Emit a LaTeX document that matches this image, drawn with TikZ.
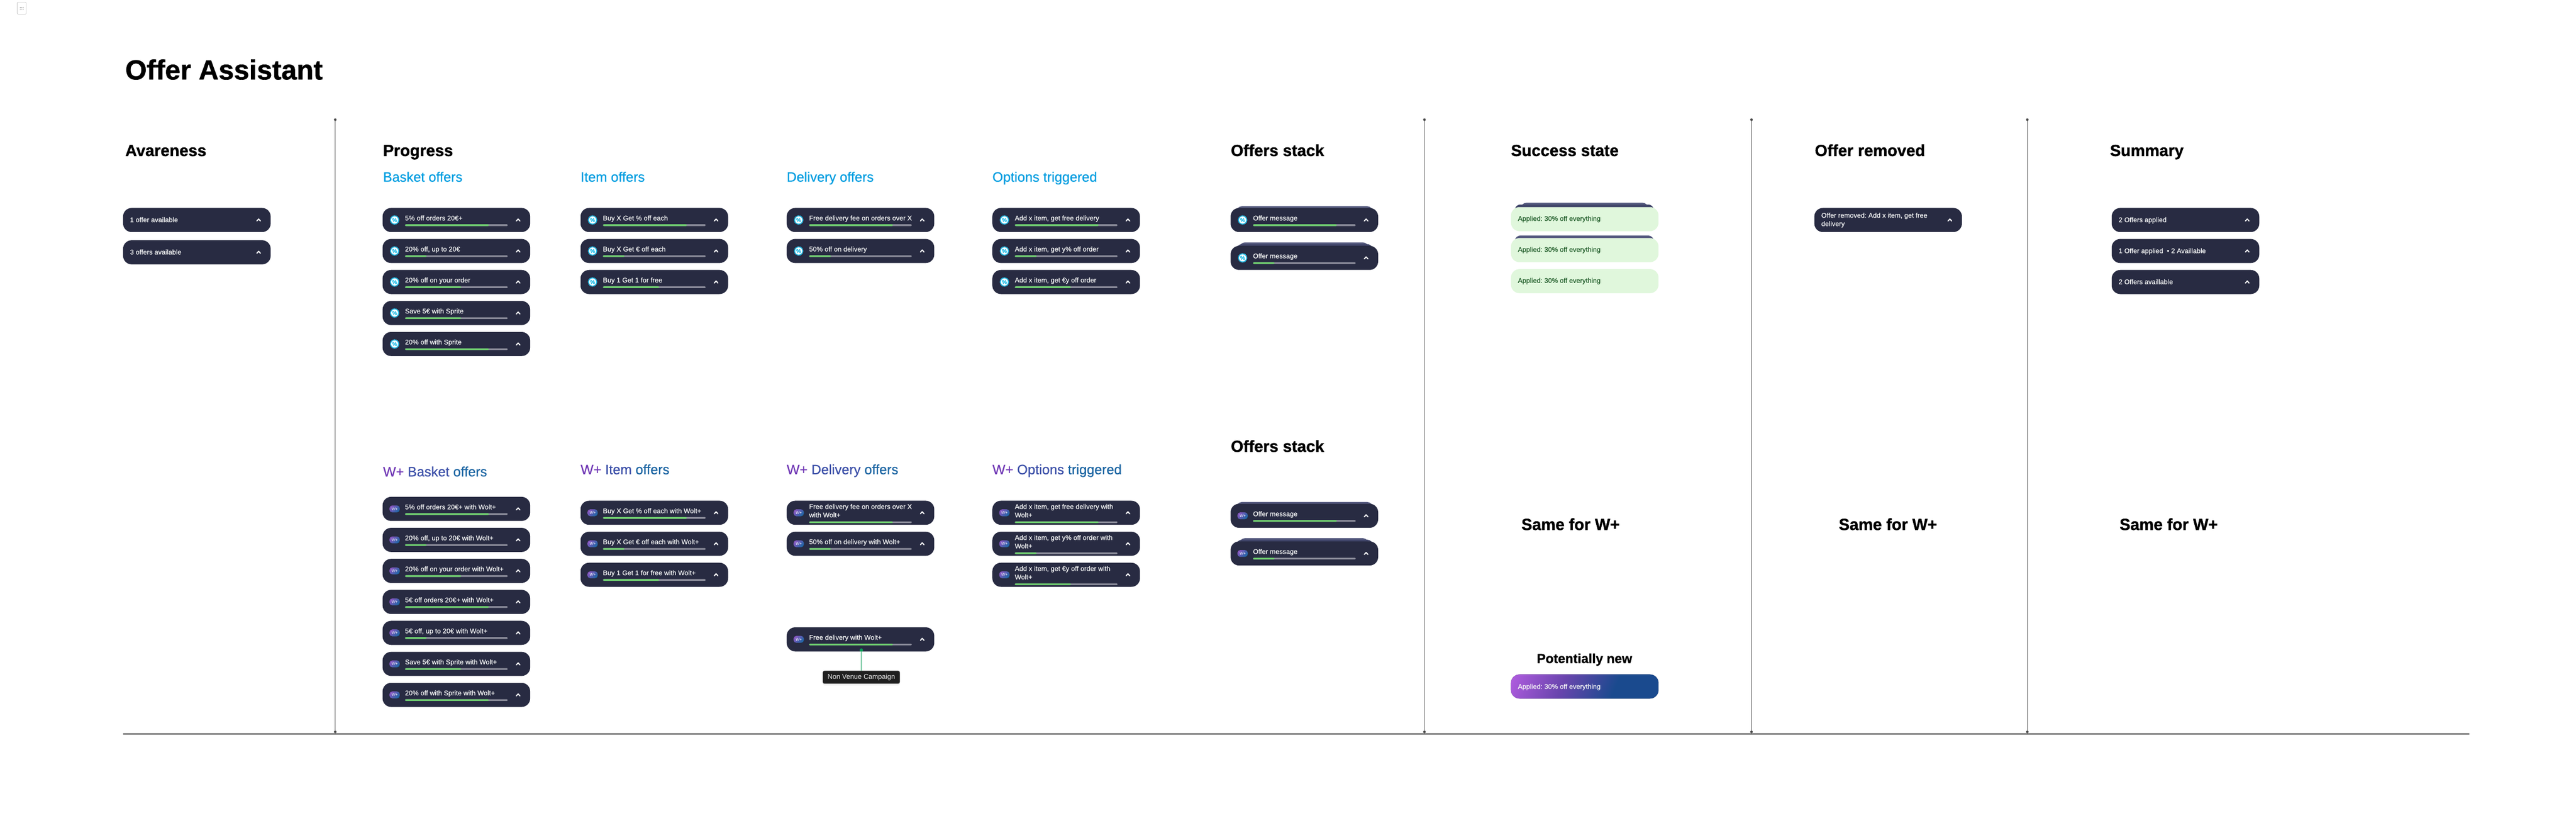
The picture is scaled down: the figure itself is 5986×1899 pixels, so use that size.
\documentclass[tikz,border=0pt]{standalone}
\usepackage{fontspec}
\setmainfont{Liberation Sans}[BoldFeatures={FakeBold=1.2}]
\newfontfamily\mediumfont{Liberation Sans}[FakeBold=.5]
\frenchspacing
\usetikzlibrary{calc,arrows.meta,shapes.geometric,shadows}
\definecolor{pillnavy}{HTML}{282B42}
\definecolor{bargrey}{HTML}{8C8D9B}
\definecolor{bargreen}{HTML}{6FCF6F}
\definecolor{woltblue}{HTML}{009DE0}
\definecolor{iconblue}{HTML}{22BDE8}
\definecolor{appliedfill}{HTML}{E0F7DC}
\definecolor{appliedtext}{HTML}{1F5C28}
\definecolor{layerlight}{HTML}{565B80}
\definecolor{layerdark}{HTML}{41466A}
\definecolor{wgradA}{HTML}{7038B5}
\definecolor{wgradB}{HTML}{3B4FA8}
\definecolor{wgradC}{HTML}{1D66A3}
\definecolor{fadepurple}{HTML}{B05CDF}
\definecolor{fademid}{HTML}{6A45AE}
\definecolor{fadenavy}{HTML}{1A4A8E}
\definecolor{campaigngreen}{HTML}{0A9C55}
\pgfdeclareverticalshading{wplusfade}{100bp}{color(0bp)=(fadenavy); color(37bp)=(fadenavy); color(60bp)=(fademid); color(83bp)=(fadepurple); color(100bp)=(fadepurple)}
\tikzset{
    pill/.style={fill=pillnavy, rounded corners=20pt, minimum width=343pt, minimum height=56pt, inner sep=0pt, outer sep=0pt, anchor=north west},
    pilltext/.style={anchor=base west, inner sep=0pt, text=white!96!pillnavy, font=\mediumfont\fontsize{15.8}{19.5}\selectfont},
    twolines/.style={pilltext, anchor=north west, align=left},
    chevron/.style={white, line width=2.5pt, line cap=round, line join=round},
    bigtitle/.style={anchor=base west, inner sep=0pt, font=\fontsize{64}{70}\selectfont\bfseries},
    blackhead/.style={anchor=base west, inner sep=0pt, font=\fontsize{37.5}{42}\selectfont\bfseries},
    bluehead/.style={anchor=base west, inner sep=0pt, text=woltblue, font=\mediumfont\fontsize{31.7}{36}\selectfont},
    wplushead/.style={anchor=base west, inner sep=0pt, font=\mediumfont\fontsize{31.7}{36}\selectfont},
    divider/.style={{Circle[length=6pt]}-{Circle[length=6pt]}, line width=1.2pt, black!70},
    gearicon/.style={star, star points=18, star point ratio=1.14, minimum size=22.5pt, inner sep=0pt, fill=iconblue},
    geardisc/.style={circle, minimum size=16.5pt, inner sep=0pt, fill=white, text=iconblue, font=\fontsize{13}{13}\selectfont\bfseries},
    wplusicon/.style={rounded corners=6.5pt, minimum width=24pt, minimum height=16pt, inner sep=0pt, left color=wgradA!85!white, right color=wgradC, shading angle=50, text=white, font=\fontsize{9.5}{10}\selectfont\itshape},
    tooltip/.style={fill=black!88, rounded corners=4pt, minimum width=179pt, minimum height=30pt, inner sep=0pt, text=white!92!black, font=\fontsize{16}{18}\selectfont, drop shadow={opacity=.12, shadow xshift=0pt, shadow yshift=-4pt}},
}
\newcommand{\percentbadge}[1]{
    \node[gearicon] (#1-gear) at ($(#1.north west)+(28,28)$) {};
    \node[geardisc] (#1-icon) at (#1-gear) {\%};
}
\newcommand{\wplusbadge}[1]{
    \node[wplusicon] (#1-icon) at ($(#1.north west)+(28,28)$) {W+};
}
\newcommand{\offerbar}[3]{ % pill, y of bar, filled part
    \fill[bargrey, rounded corners=2pt] ($(#1.north west)+(52,#2)$) rectangle ++(239,4);
    \fill[bargreen, rounded corners=2pt] ($(#1.north west)+(52,#2)$) rectangle ++({239*#3},4);
}
\newcommand{\upchevron}[1]{
    \coordinate (#1-up) at ($(#1.north west)+(315,28)$);
    \draw[chevron] ($(#1-up)+(-4.2,2.3)$) -- ($(#1-up)+(0,-2.3)$) -- ($(#1-up)+(4.2,2.3)$);
}
\NewDocumentCommand{\offerpill}{m m m m m m}{ % name, x, y, badge, text, filled part
    \node[pill] (#1) at (#2,#3) {};
    #4{#1}
    \node[pilltext] (#1-label) at ($(#1.north west)+(52,29)$) {#5};
    \offerbar{#1}{38}{#6}
    \upchevron{#1}
}
\NewDocumentCommand{\offerpilltwo}{m m m m m m}{ % same, text on two lines
    \node[pill] (#1) at (#2,#3) {};
    #4{#1}
    \node[twolines] (#1-label) at ($(#1.north west)+(52,7.5)$) {#5};
    \offerbar{#1}{48}{#6}
    \upchevron{#1}
}
\NewDocumentCommand{\plainpill}{m m m m}{ % name, x, y, text
    \node[pill] (#1) at (#2,#3) {};
    \node[pilltext] (#1-label) at ($(#1.north west)+(16,33)$) {#4};
    \upchevron{#1}
}
\newcommand{\backlayer}[4]{ % x left, x right, top, colour
    \fill[#4, rounded corners=13pt] (#1,#3) rectangle (#2,#3+34);
}
\begin{document}
\begin{tikzpicture}[x=1pt,y=-1pt]
    \useasboundingbox (0,0) rectangle (5986,1899);

    % grip at the top left
    \draw[black!22, line width=1pt, rounded corners=2pt] (40,5) rectangle (61,33);
    \foreach \gx in {47,50.5,54}
        \foreach \gy in {17,21}
            \fill[black!80] (\gx,\gy) circle (.8);

    \node[bigtitle] (title) at (291,184.5) {Offer Assistant};

    % frame
    \foreach \x/\n in {779/a,3310/b,4070/c,4711/d} {
        \coordinate (\n top) at (\x,275);
        \coordinate (\n bot) at (\x,1703);
        \draw[divider] (\n top) -- (\n bot);
    }
    \coordinate (floorL) at (286,1705);
    \coordinate (floorR) at (5738,1705);
    \draw[line width=2.5pt] (floorL) -- (floorR);

    % awareness
    \node[blackhead] (avareness) at (291,362.5) {Avareness};
    \plainpill{aw1}{286}{483}{1 offer available}
    \plainpill{aw2}{286}{558}{3 offers available}

    % progress
    \node[blackhead] (progress) at (890,362.5) {Progress};
    \node[bluehead] (basket) at (890,422) {Basket offers};
    \node[bluehead] (item) at (1349,422) {Item offers};
    \node[bluehead] (delivery) at (1828,422) {Delivery offers};
    \node[bluehead] (options) at (2306,422) {Options triggered};

    \foreach \lbl/\amt [count=\i] in {5\% off orders 20€+/.816, {20\% off, up to 20€}/.21, 20\% off on your order/.547, Save 5€ with Sprite/.547, 20\% off with Sprite/.816} {
        \offerpill{bk\i}{889}{411+72*\i}{\percentbadge}{\lbl}{\amt}
    }
    \foreach \lbl/\amt [count=\i] in {Buy X Get \% off each/.816, Buy X Get € off each/.21, Buy 1 Get 1 for free/.547} {
        \offerpill{it\i}{1349}{411+72*\i}{\percentbadge}{\lbl}{\amt}
    }
    \foreach \lbl/\amt [count=\i] in {Free delivery fee on orders over X/.816, 50\% off on delivery/.213} {
        \offerpill{dl\i}{1828}{411+72*\i}{\percentbadge}{\lbl}{\amt}
    }
    \foreach \lbl/\amt [count=\i] in {{Add x item, get free delivery}/.816, {Add x item, get y\% off order}/.213, {Add x item, get €y off order}/.547} {
        \offerpill{op\i}{2306}{411+72*\i}{\percentbadge}{\lbl}{\amt}
    }

    % wolt+ progress
    \node[wplushead] (wbasket) at (890,1106.5) {\textcolor{wgradA}{W+} \textcolor{wgradB}{Basket} \textcolor{wgradC}{offers}};
    \node[wplushead] (witem) at (1349,1101.5) {\textcolor{wgradA}{W+} \textcolor{wgradB}{Item} \textcolor{wgradC}{offers}};
    \node[wplushead] (wdelivery) at (1828,1101.5) {\textcolor{wgradA}{W+} \textcolor{wgradB}{Delivery} \textcolor{wgradC}{offers}};
    \node[wplushead] (woptions) at (2306,1101.5) {\textcolor{wgradA}{W+} \textcolor{wgradB}{Options} \textcolor{wgradC}{triggered}};

    \foreach \lbl/\amt [count=\i] in {5\% off orders 20€+ with Wolt+/.816, {20\% off, up to 20€ with Wolt+}/.21, 20\% off on your order with Wolt+/.547, 5€ off orders 20€+ with Wolt+/.816, {5€ off, up to 20€ with Wolt+}/.21, Save 5€ with Sprite with Wolt+/.547, 20\% off with Sprite with Wolt+/.816} {
        \offerpill{wb\i}{889}{1082+72*\i}{\wplusbadge}{\lbl}{\amt}
    }
    \foreach \lbl/\amt [count=\i] in {Buy X Get \% off each with Wolt+/.816, Buy X Get € off each with Wolt+/.21, Buy 1 Get 1 for free with Wolt+/.547} {
        \offerpill{wi\i}{1349}{1091+72*\i}{\wplusbadge}{\lbl}{\amt}
    }
    \offerpilltwo{wd1}{1828}{1163}{\wplusbadge}{Free delivery fee on orders over X\\with Wolt+}{.816}
    \offerpill{wd2}{1828}{1235}{\wplusbadge}{50\% off on delivery with Wolt+}{.213}
    \offerpilltwo{wo1}{2306}{1163}{\wplusbadge}{Add x item, get free delivery with\\Wolt+}{.816}
    \offerpilltwo{wo2}{2306}{1235}{\wplusbadge}{Add x item, get y\% off order with\\Wolt+}{.213}
    \offerpilltwo{wo3}{2306}{1307}{\wplusbadge}{Add x item, get €y off order with\\Wolt+}{.547}

    \offerpill{wd3}{1828}{1457}{\wplusbadge}{Free delivery with Wolt+}{.816}
    \node[tooltip] (campaign) at (2001.5,1573) {Non Venue Campaign};
    \node[circle, fill=campaigngreen, minimum size=8pt, inner sep=0pt] (campaigndot) at (2001.5,1510) {};
    \draw[campaigngreen, line width=1pt] (campaigndot) -- (campaign);

    % stacks
    \node[blackhead] (stack) at (2860,362.5) {Offers stack};
    \backlayer{2873}{3190}{479}{layerlight}
    \offerpill{st1}{2859.5}{483}{\percentbadge}{Offer message}{.816}
    \backlayer{2880}{3180}{563}{layerlight}
    \backlayer{2873}{3190}{567}{layerdark}
    \offerpill{st2}{2859.5}{571}{\percentbadge}{Offer message}{.21}

    \node[blackhead] (wstack) at (2860,1049.5) {Offers stack};
    \backlayer{2873}{3190}{1166}{layerlight}
    \offerpill{ws1}{2859.5}{1170}{\wplusbadge}{Offer message}{.816}
    \backlayer{2880}{3180}{1250}{layerlight}
    \backlayer{2873}{3190}{1253.5}{layerdark}
    \offerpill{ws2}{2859.5}{1257.5}{\wplusbadge}{Offer message}{.21}

    % success
    \node[blackhead] (success) at (3511,362.5) {Success state};
    \backlayer{3534}{3830}{471}{layerlight}
    \backlayer{3520}{3843}{475}{layerdark}
    \backlayer{3520}{3843}{547}{layerlight}
    \foreach \y [count=\i] in {481,553,625} {
        \node[pill, fill=appliedfill] (ok\i) at (3511,\y) {};
        \node[pilltext, text=appliedtext] (ok\i-label) at ($(ok\i.north west)+(16,32)$) {Applied: 30\% off everything};
    }
    \node[blackhead, anchor=base] (samesuccess) at (3649.5,1231) {Same for W+};
    \node[blackhead, anchor=base, font=\fontsize{30.4}{34}\selectfont\bfseries] (newhead) at (3682,1540) {Potentially new};
    \node[pill, shade, shading=wplusfade, shading angle=66] (newpill) at (3511,1566.5) {};
    \node[pilltext] (newpill-label) at ($(newpill.north west)+(16,33.5)$) {Applied: 30\% off everything};

    % removed
    \node[blackhead] (removed) at (4217,362.5) {Offer removed};
    \node[pill] (rm1) at (4216,483) {};
    \node[twolines] (rm1-label) at ($(rm1.north west)+(16,11)$) {Offer removed: Add x item, get free\\delivery};
    \upchevron{rm1}
    \node[blackhead, anchor=base] (sameremoved) at (4387,1231) {Same for W+};

    % summary
    \node[blackhead] (summary) at (4903,362.5) {Summary};
    \plainpill{su1}{4907}{483}{2 Offers applied}
    \plainpill{su2}{4907}{555}{1 Offer applied \ • 2 Availlable}
    \plainpill{su3}{4907}{627}{2 Offers availlable}
    \node[blackhead, anchor=base] (samesummary) at (5039.5,1231) {Same for W+};
\end{tikzpicture}
\end{document}
